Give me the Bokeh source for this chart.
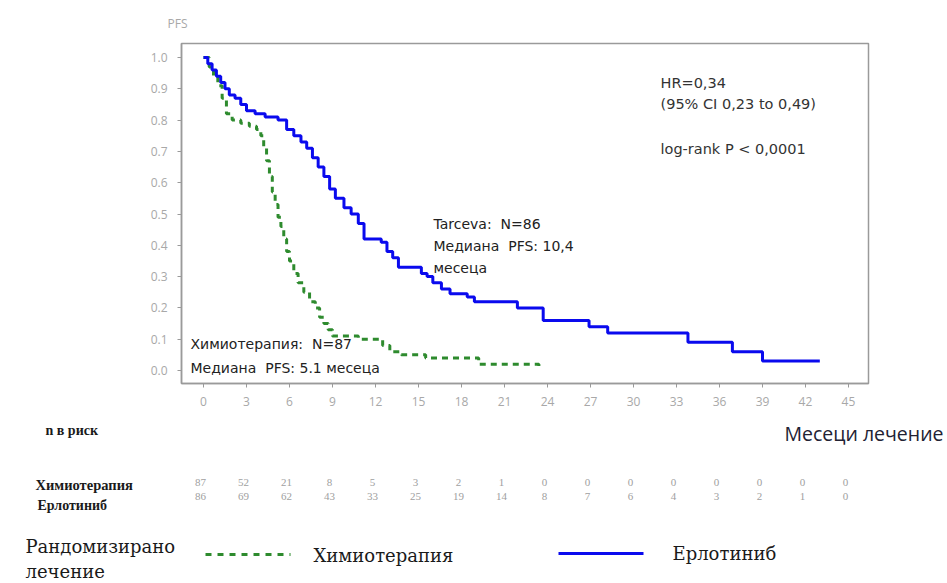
from bokeh.plotting import figure
from bokeh.layouts import column
from bokeh.models import Range1d, FixedTicker, PrintfTickFormatter, Label, LabelSet, ColumnDataSource, Arrow
from bokeh.embed import file_html
from bokeh.resources import INLINE

# ---------------- data ----------------
erlo_t = [0, 0.3, 0.6, 0.9, 1.2, 1.5, 1.8, 2.2, 2.6, 3.0, 3.6, 4.3, 5.2, 5.8, 6.3, 6.8, 7.2, 7.6, 8.0, 8.4,
          8.8, 9.2, 9.8, 10.3, 10.8, 11.2, 12.4, 12.8, 13.2, 13.6, 15.2, 15.6, 16.0, 16.6, 17.2, 18.4, 18.9,
          21.9, 23.7, 26.9, 28.2, 33.8, 36.9, 39.0, 43.0]
erlo_s = [1.0, 0.98, 0.96, 0.94, 0.92, 0.90, 0.88, 0.87, 0.85, 0.83, 0.82, 0.81, 0.80, 0.77, 0.75, 0.73, 0.71,
          0.68, 0.65, 0.62, 0.58, 0.55, 0.52, 0.50, 0.47, 0.42, 0.41, 0.38, 0.36, 0.33, 0.31, 0.30, 0.28, 0.26,
          0.245, 0.235, 0.22, 0.20, 0.16, 0.14, 0.12, 0.09, 0.06, 0.03, 0.03]
chemo_t = [0, 0.4, 0.7, 1.0, 1.3, 1.6, 2.0, 2.6, 3.2, 3.7, 4.0, 4.2, 4.4, 4.6, 4.8, 5.0, 5.2, 5.4, 5.6, 5.8,
           6.0, 6.3, 6.6, 7.0, 7.4, 7.8, 8.1, 8.4, 8.7, 9.0, 10.8, 12.5, 13.0, 13.8, 15.5, 19.2, 23.4]
chemo_s = [1.0, 0.97, 0.94, 0.91, 0.87, 0.82, 0.80, 0.79, 0.78, 0.77, 0.75, 0.71, 0.67, 0.62, 0.57, 0.53, 0.49,
           0.46, 0.42, 0.38, 0.35, 0.31, 0.28, 0.25, 0.22, 0.20, 0.17, 0.15, 0.13, 0.11, 0.10, 0.08, 0.06, 0.05,
           0.04, 0.02, 0.01]

risk_months = [0, 3, 6, 9, 12, 15, 18, 21, 24, 27, 30, 33, 36, 39, 42, 45]
risk_chemo = [87, 52, 21, 8, 5, 3, 2, 1, 0, 0, 0, 0, 0, 0, 0, 0]
risk_erlo = [86, 69, 62, 43, 33, 25, 19, 14, 8, 7, 6, 4, 3, 2, 1, 0]
y_ticks = [0.0, 0.1, 0.2, 0.3, 0.4, 0.5, 0.6, 0.7, 0.8, 0.9, 1.0]

GREEN = "#2e8b2e"
BLUE = "#0a0aee"
SANS = "DejaVu Sans"
TICKFONT = "Open Sans"
SERIF = "Liberation Serif"
SERIF2 = "DejaVu Serif"
NB = "\u00a0"

W = 945
HA = 415          # upper figure height
HB = 166          # lower figure height

# page pixel -> month / survival helpers (frame: x 181..868, y 43..383)
def dx(px):
    return (px - 203) / 14.333

def dy(py):
    return (370 - py) / 313.0

# ---------------- upper figure: KM curves ----------------
p = figure(width=W, height=HA, output_backend="svg", toolbar_location=None,
           x_range=Range1d(dx(181), dx(868)), y_range=Range1d(dy(383), dy(43)),
           min_border_left=181, min_border_top=43,
           min_border_right=W - 868, min_border_bottom=HA - 383)
p.frame_align = False
p.grid.visible = False
p.outline_line_color = "#9a9a9a"
p.outline_line_width = 1.5
p.border_fill_color = "white"

p.title.text = "PFS"
p.title.align = "left"
p.title.offset = -14
p.title.standoff = 23
p.title.text_font = TICKFONT
p.title.text_font_size = "12px"
p.title.text_font_style = "normal"
p.title.text_color = "#a8a8a8"

for ax in (p.xaxis[0], p.yaxis[0]):
    ax.axis_line_color = "#9a9a9a"
    ax.axis_line_width = 1.5
    ax.major_tick_line_color = "#9a9a9a"
    ax.major_tick_out = 4
    ax.major_tick_in = 0
    ax.minor_tick_line_color = None
    ax.major_label_text_color = "#a8a8a8"
    ax.major_label_text_font = TICKFONT
    ax.major_label_text_font_size = "12px"

p.xaxis.ticker = FixedTicker(ticks=risk_months)
p.xaxis.major_label_standoff = 9
p.yaxis.ticker = FixedTicker(ticks=y_ticks)
p.yaxis.formatter = PrintfTickFormatter(format="%.1f")
p.yaxis.major_label_standoff = 10

p.step(chemo_t, chemo_s, mode="after", line_color=GREEN, line_width=3, line_dash="6 5")
p.step(erlo_t, erlo_s, mode="after", line_color=BLUE, line_width=3)

def lab(fig, x, y, text, size, font=SANS, color="#333333", style="normal", align="left"):
    fig.add_layout(Label(x=x, y=y, text=text, text_font=font, text_font_size=size,
                         text_color=color, text_font_style=style, text_align=align,
                         text_baseline="middle"))

lab(p, dx(660), dy(82), "HR=0,34", "14.5px")
lab(p, dx(660), dy(103), "(95% CI 0,23 to 0,49)", "14.5px")
lab(p, dx(660), dy(148), "log-rank P < 0,0001", "14.5px")
lab(p, dx(433), dy(223), "Tarceva:" + NB + " N=86", "14px", color="#222222")
lab(p, dx(433), dy(245), "Медиана" + NB + " PFS: 10,4", "14px", color="#222222")
lab(p, dx(433), dy(267), "месеца", "14px", color="#222222")
lab(p, dx(190), dy(343), "Химиотерапия:" + NB + " N=87", "14px", color="#222222")
lab(p, dx(190), dy(367), "Медиана" + NB + " PFS: 5.1 месеца", "14px", color="#222222")

# ---------------- lower figure: at-risk table and legend ----------------
# x in months (same scale as above), y in page pixels (inverted range)
q = figure(width=W, height=HB, output_backend="svg", toolbar_location=None,
           x_range=Range1d(dx(0), dx(W)), y_range=Range1d(HA + HB, HA),
           x_axis_type=None, y_axis_type=None,
           min_border_left=0, min_border_right=0, min_border_top=0, min_border_bottom=0)
q.frame_align = False
q.grid.visible = False
q.outline_line_color = None
q.border_fill_color = "white"

lab(q, dx(45), 430, "n в риск", "14px", font=SERIF, color="#1a1a1a", style="bold")
lab(q, dx(943), 433, "Месеци лечение", "19.5px", font="Open Sans", color="#222233", align="right")
lab(q, dx(35), 484, "Химиотерапия", "14.5px", font=SERIF, color="#1a1a1a", style="bold")
lab(q, dx(37), 505, "Ерлотиниб", "14px", font=SERIF, color="#1a1a1a", style="bold")

src = ColumnDataSource(dict(
    x=risk_months + risk_months,
    y=[482] * len(risk_months) + [496] * len(risk_months),
    t=[str(v) for v in risk_chemo] + [str(v) for v in risk_erlo]))
q.add_layout(LabelSet(x="x", y="y", text="t", source=src, text_font=TICKFONT, text_font_size="11px",
                      text_color="#a0a0a0", text_align="center", text_baseline="middle", x_offset=-3))

lab(q, dx(25), 546, "Рандомизирано", "18px", font=SERIF2, color="#1a1a1a")
lab(q, dx(25), 571, "лечение", "18px", font=SERIF2, color="#1a1a1a")
q.add_layout(Arrow(end=None, x_start=dx(205), y_start=554, x_end=dx(290), y_end=554,
                   line_color=GREEN, line_width=3, line_dash="6 6"))
lab(q, dx(313), 555, "Химиотерапия", "18px", font=SERIF2, color="#1a1a1a")
q.add_layout(Arrow(end=None, x_start=dx(558), y_start=553, x_end=dx(643), y_end=553,
                   line_color=BLUE, line_width=3))
lab(q, dx(672), 553, "Ерлотиниб", "18px", font=SERIF2, color="#1a1a1a")

layout = column(p, q, spacing=0)
open("out.html", "w").write(file_html(layout, INLINE))
